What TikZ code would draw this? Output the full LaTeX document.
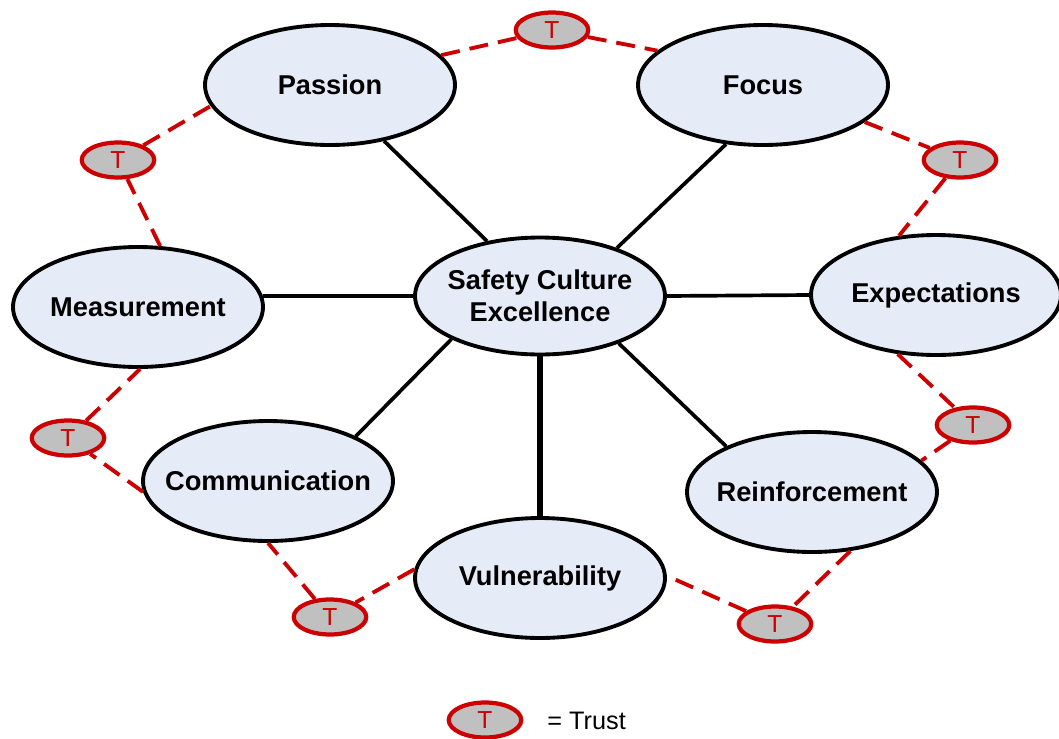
\documentclass[tikz,border=0pt]{standalone}
\usepackage{fontspec}
\setmainfont{Liberation Sans}
\usetikzlibrary{shapes.geometric}
\definecolor{bubblefill}{RGB}{230,236,247}
\definecolor{trustred}{RGB}{204,0,0}
\definecolor{trustgray}{RGB}{192,192,192}

\begin{document}
\begin{tikzpicture}[x=0.02cm, y=-0.02cm,
        bubble/.style={ellipse, draw, line width=2.2pt, fill=bubblefill, minimum width=5cm, minimum height=2.4cm, inner xsep=-0.6cm, inner ysep=0pt, align=center, font=\fontsize{15.5}{18.5}\selectfont\bfseries},
        trust/.style={ellipse, draw=trustred, line width=2.4pt, fill=trustgray, minimum width=1.45cm, minimum height=0.7cm, inner sep=0pt, text=trustred, font=\fontsize{14}{16}\selectfont},
        trustline/.style={trustred, line width=2.2pt, dash pattern=on 0.38cm off 0.2cm},
        spoke/.style={line width=2.1pt}]
        \useasboundingbox ( 0, 0 ) rectangle ( 1059, 738 );

        % центр
        \node [bubble, minimum height=2.34cm] (sce) at ( 540, 296 ) {Safety Culture\\Excellence};

        % лепестки
        \node [bubble] (passion) at ( 330, 85 ) {Passion};
        \node [bubble] (focus) at ( 763, 85 ) {Focus};
        \node [bubble] (measurement) at ( 138, 307 ) {Measurement};
        \node [bubble] (expectations) at ( 936, 295 ) {Expectations};
        \node [bubble] (communication) at ( 268, 481 ) {Communication};
        \node [bubble] (reinforcement) at ( 812, 492 ) {Reinforcement};
        \node [bubble] (vulnerability) at ( 540, 578 ) {Vulnerability};

        % доверие
        \node [trust] (tpf) at ( 552, 30 ) {T};
        \node [trust] (tpm) at ( 118, 160 ) {T};
        \node [trust] (tfe) at ( 960, 160 ) {T};
        \node [trust] (tmc) at ( 68, 438 ) {T};
        \node [trust] (ter) at ( 973, 425 ) {T};
        \node [trust] (tcv) at ( 330, 617 ) {T};
        \node [trust] (tvr) at ( 775, 624 ) {T};

        % спицы
        \draw [spoke] (passion.314) -- (sce.134);
        \draw [spoke] (focus.238) -- (sce.32);
        \draw [spoke] (measurement.5) -- (sce.180);
        \draw [spoke] (sce.0) -- (expectations.180);
        \draw [spoke] (communication.27) -- (sce.206);
        \draw [spoke] (reinforcement.152) -- (sce.329);
        \draw [line width=3.4pt] (sce.south) -- (vulnerability.north);

        % кольцо доверия
        \draw [trustline] (passion.15) -- (tpf) -- (focus.162);
        \draw [trustline] (focus.340) -- (tfe) -- (expectations.122);
        \draw [trustline] (expectations.237) -- (ter) -- (reinforcement.16);
        \draw [trustline] (reinforcement.303) -- (tvr) -- (vulnerability.1);
        \draw [trustline] (vulnerability.176) -- (tcv) -- (communication.270);
        \draw [trustline] (communication.185) -- (tmc) -- (measurement.272);
        \draw [trustline] (measurement.70) -- (tpm) -- (passion.190);

        % легенда
        \node [trust] (tkey) at ( 485, 720 ) {T};
        \node [anchor=west, inner sep=0pt, font=\fontsize{14.4}{16}\selectfont] (keytext) at ( 547, 721 ) {= Trust};
    \end{tikzpicture}
\end{document}
